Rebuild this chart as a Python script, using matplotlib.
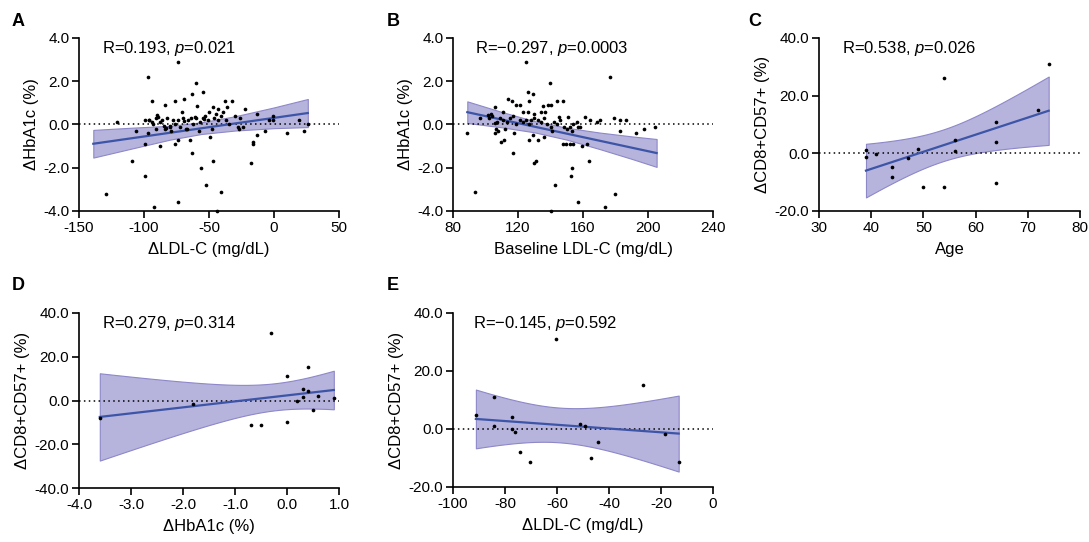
import math
import numpy as np
import matplotlib
matplotlib.use("Agg")
import matplotlib.pyplot as plt
from matplotlib.ticker import FormatStrFormatter, MultipleLocator

plt.rcParams['font.family'] = ['Liberation Sans', 'DejaVu Sans']
plt.rcParams['mathtext.fontset'] = 'custom'
plt.rcParams['mathtext.rm'] = 'Liberation Sans'
plt.rcParams['mathtext.it'] = 'Liberation Sans:italic'

# ---- data ----
# A: delta LDL-C vs delta HbA1c
a_x = [-121, -129, -109, -106, -99, -99, -97, -97, -99, -96, -92, -94, -94, -90, -88, -91, -89,
       -84, -85, -83, -80, -79, -76, -76, -74, -74, -74, -71, -69, -69, -67, -65, -63, -63, -61,
       -60, -59, -56, -55, -54, -52, -49, -47, -47, -41, -44, -43, -38, -36, -32, -28, -26, -22,
       -18, -16, -16, -13, -13, -7, -4, -1, -1, 10, 19, 23, 26,
       -96, -93, -91, -88, -86, -84, -82, -80, -78, -76, -74, -72, -70, -68, -66, -64, -62, -60,
       -58, -57, -55, -53, -51, -50, -48, -46, -45, -43, -41, -39, -37, -35, -30, -27, -24]
a_y = [0.1, -3.2, -1.7, -0.3, -2.4, -0.9, 2.2, -0.4, 0.2, 0.2, -3.8, 1.1, 0.1, 0.45, -1.0, -0.2, 0.35,
       0.9, -0.05, -0.15, -0.05, -0.3, -0.9, 1.1, 2.9, -3.6, -0.7, 0.6, 1.2, 0.15, -0.2, -0.7, 1.4, -1.3, 0.35,
       1.9, 0.85, -2.0, 1.5, 0.25, -2.8, -0.6, -1.7, 0.8, -3.1, -4.0, 0.7, 1.1, 0.8, 1.1, -0.1, 0.3, 0.7,
       -1.8, -0.8, -0.9, 0.5, -0.5, -0.3, 0.2, 0.4, 0.2, -0.4, 0.2, -0.3, 0.0,
       0.2, 0.0, 0.3, 0.1, 0.2, -0.2, 0.3, -0.1, 0.2, 0.0, 0.2, -0.1, 0.3, -0.2, 0.2, 0.3, 0.0, 0.3,
       -0.3, 0.1, 0.3, 0.4, 0.2, 0.6, -0.2, 0.3, 0.5, 0.2, 0.4, 0.6, 0.2, 0.0, 0.4, -0.2, -0.1]
# A: fitted line and 95% band as drawn in the figure
a_fit_x = [-139, 26]
a_fit_y = [-0.89, 0.53]
a_band_x = [-139, -110, -80, -56, -30, 0, 26]
a_band_hi = [-0.25, -0.15, -0.06, 0.10, 0.38, 0.79, 1.18]
a_band_lo = [-1.53, -1.12, -0.70, -0.44, -0.28, -0.17, -0.12]

# B: baseline LDL-C vs delta HbA1c
b_x = [88.6, 93.5, 96.8, 101.5, 103.6, 105.6, 105.6, 106.7, 107.7, 109.7, 110.8, 111.4, 113.8, 116.5,
       116.9, 117.5, 119, 121, 123, 125, 126.2, 126.6, 127, 129.2, 129.2, 130, 130, 131.3, 132.3, 135.4,
       135.8, 136.4, 138.5, 139.5, 140, 140, 142.6, 144, 145.2, 147.7, 147.7, 149.7, 150.8, 151.8, 152.4,
       153.4, 153.8, 156.7, 156.7, 159.6, 161.2, 162.7, 163.7, 164.5, 168.6, 170.3, 173.7, 176.8, 178.9,
       179.7, 182.6, 183, 186.7, 192.4, 197.3, 204.3,
       102, 104, 107, 109, 111, 113, 115, 117, 119, 121, 123, 125, 127, 128, 130, 132, 134, 136,
       138, 140, 142, 144, 146, 148, 150, 152, 154, 156, 158, 106, 112, 126, 134, 141, 153]
b_y = [-0.4, -3.1, 0.3, 0.45, 0.5, 0.8, 0.05, -0.2, -0.3, -0.8, 0.6, -0.7, 1.2, 1.1,
       -1.3, -0.4, 0.9, 0.9, 0.6, 2.9, 1.5, 1.1, -0.7, 1.4, -0.5, 0.5, -1.8, -1.7, -0.7, 0.85,
       -0.6, 0.6, 0.9, 1.9, 0.9, -4.0, -2.8, 1.1, 0.35, 1.1, -0.9, -0.9, 0.35, -0.9, -2.4,
       -2.0, -0.9, -3.6, -0.1, -1.0, 0.35, -0.9, -1.7, 0.2, 0.1, 0.2, -3.8, 2.2, 0.3,
       -3.2, -0.3, 0.2, 0.2, -0.4, -0.2, -0.1,
       0.3, 0.4, 0.1, 0.3, 0.2, 0.1, 0.3, 0.4, 0.0, 0.2, 0.1, 0.2, 0.0, 0.2, 0.3, 0.2, 0.1, 0.3,
       0.0, -0.1, 0.1, 0.0, 0.2, -0.1, -0.2, -0.1, 0.0, 0.1, -0.1, -0.4, -0.2, 0.6, 0.6, -0.3, -0.3]
b_fit_x = [88.8, 205.3]
b_fit_y = [0.57, -1.32]
b_band_x = [88.8, 110, 130, 150, 170, 190, 205.3]
b_band_hi = [1.07, 0.58, 0.16, -0.15, -0.37, -0.55, -0.67]
b_band_lo = [0.07, -0.13, -0.36, -0.70, -1.13, -1.59, -1.96]

# C: age vs delta CD8+CD57+
c_x = [39, 39, 41, 44, 44, 47, 49, 50, 54, 54, 56, 56, 64, 64, 64, 72, 74]
c_y = [1.0, -1.3, -0.2, -4.6, -8.2, -1.7, 1.6, -11.6, 26.1, -11.8, 4.7, 0.7, 11.0, 3.9, -10.2, 14.9, 31.0]

# D: delta HbA1c vs delta CD8+CD57+
d_x = [-3.6, -1.8, -0.69, -0.5, -0.3, 0.0, 0.0, 0.2, 0.3, 0.3, 0.4, 0.4, 0.5, 0.6, 0.9]
d_y = [-7.8, -1.4, -11.0, -11.1, 31.0, 11.1, -9.6, 0.0, 5.2, 1.4, 15.1, 4.3, -4.3, 2.0, 1.1]

# E: delta LDL-C vs delta CD8+CD57+
e_x = [-91.2, -84.1, -84.1, -77.2, -77.2, -76.2, -74.1, -70.2, -60.2, -51.2, -49.2, -47.1, -44.2,
       -27.1, -18.3, -13.2]
e_y = [5.0, 11.2, 0.9, 4.1, 0.0, -1.2, -8.1, -11.3, 31.1, 1.8, 1.2, -10.0, -4.5, 15.1, -1.6, -11.5]

stats = ['R=0.193, $\\mathit{p}$=0.021',
         'R=\u22120.297, $\\mathit{p}$=0.0003',
         'R=0.538, $\\mathit{p}$=0.026',
         'R=0.279, $\\mathit{p}$=0.314',
         'R=\u22120.145, $\\mathit{p}$=0.592']

line_col = '#3d55a6'
band_col = '#b6b3dd'
band_edge = '#8d88c8'


def t_crit(df):
    # two-sided 95% critical value of Student t by numeric integration
    g = np.linspace(0, 12, 240001)
    c = math.gamma((df + 1) / 2) / (math.sqrt(df * math.pi) * math.gamma(df / 2))
    pdf = c * (1 + g ** 2 / df) ** (-(df + 1) / 2)
    cdf = 0.5 + np.concatenate([[0], np.cumsum((pdf[1:] + pdf[:-1]) / 2 * np.diff(g))])
    return g[np.searchsorted(cdf, 0.975)]


def regression(x, y):
    # least-squares line with 95% confidence band
    x = np.asarray(x, float)
    y = np.asarray(y, float)
    n = len(x)
    slope, inter = np.polyfit(x, y, 1)
    xs = np.linspace(x.min(), x.max(), 200)
    fit = slope * xs + inter
    s = np.sqrt(np.sum((y - (slope * x + inter)) ** 2) / (n - 2))
    se = s * np.sqrt(1 / n + (xs - x.mean()) ** 2 / np.sum((x - x.mean()) ** 2))
    t = t_crit(n - 2)
    return xs, fit, xs, fit - t * se, fit + t * se


def panel(rect, x, y, xlim, xstep, ylim, ystep, xfmt, yfmt, xlabel, ylabel, txt, tx, fit=None):
    ax = fig.add_axes(rect)
    fx, fy, bx, blo, bhi = fit if fit else regression(x, y)
    ax.fill_between(bx, blo, bhi, facecolor=band_col, edgecolor=band_edge,
                    linewidth=0.8, zorder=1)
    ax.plot(fx, fy, color=line_col, lw=1.6, zorder=2)
    ax.axhline(0, color='black', ls=(0, (1, 2.2)), lw=1.1, zorder=1.5)
    ax.scatter(x, y, s=7, color='black', zorder=3, clip_on=False, linewidths=0)
    ax.set_xlim(xlim)
    ax.set_ylim(ylim)
    ax.xaxis.set_major_locator(MultipleLocator(xstep))
    ax.yaxis.set_major_locator(MultipleLocator(ystep))
    ax.xaxis.set_major_formatter(FormatStrFormatter(xfmt))
    ax.yaxis.set_major_formatter(FormatStrFormatter(yfmt))
    for sp in ['top', 'right']:
        ax.spines[sp].set_visible(False)
    for sp in ['left', 'bottom']:
        ax.spines[sp].set_linewidth(1.2)
    ax.tick_params(direction='out', length=5, width=1.2, labelsize=11, pad=2)
    ax.set_xlabel(xlabel, fontsize=12, labelpad=5)
    ax.set_ylabel(ylabel, fontsize=12, labelpad=3)
    ax.text(tx, 0.94, txt, transform=ax.transAxes, fontsize=12, va='center', ha='left')
    return ax


fig = plt.figure(figsize=(10.89, 5.42), dpi=100)

W = 260 / 1089
panel([79 / 1089, 1 - 211 / 542, W, 173 / 542], a_x, a_y, (-150, 50), 50, (-4, 4), 2,
      '%d', '%.1f', '\u0394LDL-C (mg/dL)', '\u0394HbA1c (%)', stats[0], 0.088,
      fit=(a_fit_x, a_fit_y, a_band_x, a_band_lo, a_band_hi))
panel([453 / 1089, 1 - 211 / 542, W, 173 / 542], b_x, b_y, (80, 240), 40, (-4, 4), 2,
      '%d', '%.1f', 'Baseline LDL-C (mg/dL)', '\u0394HbA1c (%)', stats[1], 0.085,
      fit=(b_fit_x, b_fit_y, b_band_x, b_band_lo, b_band_hi))
panel([819 / 1089, 1 - 211 / 542, 261 / 1089, 173 / 542], c_x, c_y, (30, 80), 10, (-20, 40), 20,
      '%d', '%.1f', 'Age', '\u0394CD8+CD57+ (%)', stats[2], 0.088)
panel([79 / 1089, 1 - 488 / 542, W, 175 / 542], d_x, d_y, (-4, 1), 1, (-40, 40), 20,
      '%.1f', '%.1f', '\u0394HbA1c (%)', '\u0394CD8+CD57+ (%)', stats[3], 0.088)
panel([453 / 1089, 1 - 487 / 542, W, 174 / 542], e_x, e_y, (-100, 0), 20, (-20, 40), 20,
      '%d', '%.1f', '\u0394LDL-C (mg/dL)', '\u0394CD8+CD57+ (%)', stats[4], 0.077)

for lab, px, py in [('A', 12, 21), ('B', 387, 21), ('C', 748, 21), ('D', 12, 285), ('E', 387, 285)]:
    fig.text(px / 1089, 1 - py / 542, lab, fontsize=13, fontweight='bold', va='center', ha='left')

fig.savefig('out.png', dpi=100)
